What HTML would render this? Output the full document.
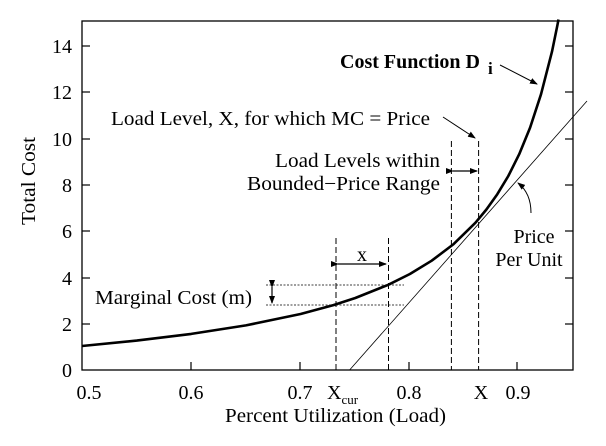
<!DOCTYPE html>
<html><head><meta charset="utf-8"><style>
html,body{margin:0;padding:0;background:#fff;}
svg{display:block;}
svg text{font-family:"Liberation Serif","Times New Roman",serif;}
</style></head><body>
<svg width="606" height="446" viewBox="0 0 606 446" xmlns="http://www.w3.org/2000/svg" font-family="Liberation Serif, serif">
<defs>
<marker id="ah" markerWidth="8" markerHeight="6" refX="7" refY="3" orient="auto" markerUnits="userSpaceOnUse"><path d="M0,0 L8,3 L0,6 z" fill="#000"/></marker>
</defs>
<rect x="82" y="21" width="491" height="349" fill="none" stroke="#000" stroke-width="1.3"/>
<g stroke="#000" stroke-width="1.2">
<line x1="82" y1="324" x2="90" y2="324"/><line x1="82" y1="278" x2="90" y2="278"/><line x1="82" y1="231" x2="90" y2="231"/><line x1="82" y1="185" x2="90" y2="185"/><line x1="82" y1="139" x2="90" y2="139"/><line x1="82" y1="92" x2="90" y2="92"/><line x1="82" y1="46" x2="90" y2="46"/>
<line x1="565" y1="324" x2="573" y2="324"/><line x1="565" y1="278" x2="573" y2="278"/><line x1="565" y1="231" x2="573" y2="231"/><line x1="565" y1="185" x2="573" y2="185"/><line x1="565" y1="139" x2="573" y2="139"/><line x1="565" y1="92" x2="573" y2="92"/><line x1="565" y1="46" x2="573" y2="46"/>
<line x1="191" y1="370" x2="191" y2="362"/><line x1="300" y1="370" x2="300" y2="362"/><line x1="409" y1="370" x2="409" y2="362"/><line x1="517" y1="370" x2="517" y2="362"/>
</g>
<g font-size="20" text-anchor="end">
<text x="72" y="377">0</text><text x="72" y="331">2</text><text x="72" y="285">4</text><text x="72" y="238">6</text><text x="72" y="192">8</text><text x="72" y="146">10</text><text x="72" y="99">12</text><text x="72" y="53">14</text>
</g>
<g font-size="20" text-anchor="middle">
<text x="89" y="399">0.5</text><text x="191" y="399">0.6</text><text x="300" y="399">0.7</text><text x="409" y="399">0.8</text><text x="518" y="399">0.9</text>
<text x="481" y="399">X</text>
</g>
<text x="225" y="422" font-size="20" textLength="221" lengthAdjust="spacingAndGlyphs">Percent Utilization (Load)</text>
<text x="327" y="399" font-size="20">X<tspan font-size="13" dy="5">cur</tspan></text>
<text transform="translate(35,225) rotate(-90)" font-size="20" textLength="88" lengthAdjust="spacingAndGlyphs">Total Cost</text>
<polyline fill="none" stroke="#000" stroke-width="2.6" stroke-linejoin="round" points="82,346 136.7,340.6 191.3,333.9 245.9,325.4 300.6,314 333.4,305.1 355.3,298 388,284.9 409.9,274 431.7,260.7 453.6,244.1 475.5,222.7 486.4,209.5 497.3,194.2 508.3,176 519.2,154.2 530.1,127.6 541,94.3 552,51.6 557.4,25.3 558.5,19.5"/>
<line x1="349.6" y1="370" x2="587" y2="101" stroke="#000" stroke-width="0.8"/>
<g stroke="#000" stroke-width="1" stroke-dasharray="6,3">
<line x1="336" y1="238" x2="336" y2="370"/><line x1="388.5" y1="238" x2="388.5" y2="370"/>
<line x1="451.4" y1="141" x2="451.4" y2="370"/><line x1="478.6" y1="141" x2="478.6" y2="370"/>
</g>
<g stroke="#000" stroke-width="0.8" stroke-dasharray="2,1.5">
<line x1="266" y1="285" x2="404" y2="285"/><line x1="266" y1="305" x2="404" y2="305"/>
</g>
<g stroke="#000" stroke-width="1.2">
<line x1="338" y1="264" x2="386" y2="264" marker-end="url(#ah)" marker-start="url(#ah)"/>
<line x1="272" y1="287" x2="272" y2="303" marker-end="url(#ah)" marker-start="url(#ah)"/>
<line x1="453" y1="171" x2="477" y2="171" marker-end="url(#ah)" marker-start="url(#ah)"/>
<line x1="500" y1="65" x2="537" y2="84" marker-end="url(#ah)" stroke-width="1"/>
<line x1="443" y1="117" x2="475" y2="138" marker-end="url(#ah)" stroke-width="1"/>
<path d="M531,213 C531,200 527,190 518,183" fill="none" marker-end="url(#ah)" stroke-width="1"/>
</g>
<g font-size="20">
<text x="362" y="261" text-anchor="middle">x</text>
<text x="95" y="304" textLength="157" lengthAdjust="spacingAndGlyphs">Marginal Cost (m)</text>
<text x="111" y="125" textLength="319" lengthAdjust="spacingAndGlyphs">Load Level, X, for which MC = Price</text>
<text x="275" y="167" textLength="165" lengthAdjust="spacingAndGlyphs">Load Levels within</text>
<text x="247" y="190" textLength="193" lengthAdjust="spacingAndGlyphs">Bounded−Price Range</text>
<text x="534" y="243" text-anchor="middle">Price</text>
<text x="529" y="266" text-anchor="middle">Per Unit</text>
<text x="340" y="68" font-weight="bold" textLength="140" lengthAdjust="spacingAndGlyphs">Cost Function D</text>
<text x="488" y="74" font-size="17" font-weight="bold">i</text>
</g>
</svg>
</body></html>
